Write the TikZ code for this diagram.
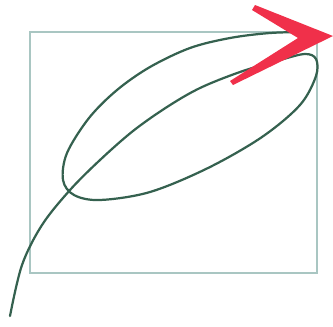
\documentclass[tikz,border=0pt]{standalone}
\usepackage{xcolor}
\definecolor{frm}{HTML}{A9C6C2}
\definecolor{stem}{HTML}{35614F}
\definecolor{tipc}{HTML}{F0304A}
\tikzset{
  frame/.style={draw=frm, line width=0.9pt},
  leaf/.style={draw=stem, line width=1.9pt, line cap=round},
  head/.style={fill=tipc, draw=none},
}
\begin{document}
\begin{tikzpicture}[x=0.03cm, y=-0.03cm]
  \useasboundingbox (0,0) rectangle (333,326);
  \draw[frame] (30,32) rectangle (317,273);
  % stem, loop, top edge
  \draw[leaf] plot[smooth, tension=0.55] coordinates {
    (10,316) (22,265) (42,225) (70,190) (100,160) (133,131) (167,107)
    (200,88) (240,72) (280,60) (305,54) (316,59) (316,76) (300,105)
    (262,137) (208,168) (150,192) (100,200) (74,195) (63,180) (67,153)
    (89,118) (117,90) (150,67) (190,48) (230,38) (270,33) (306,32)};
  % arrow head
  \fill[head] (255,5) -- (333,36) -- (233,85) -- (230,81) -- (298,38)
    -- (252,10) -- cycle;
\end{tikzpicture}
\end{document}
